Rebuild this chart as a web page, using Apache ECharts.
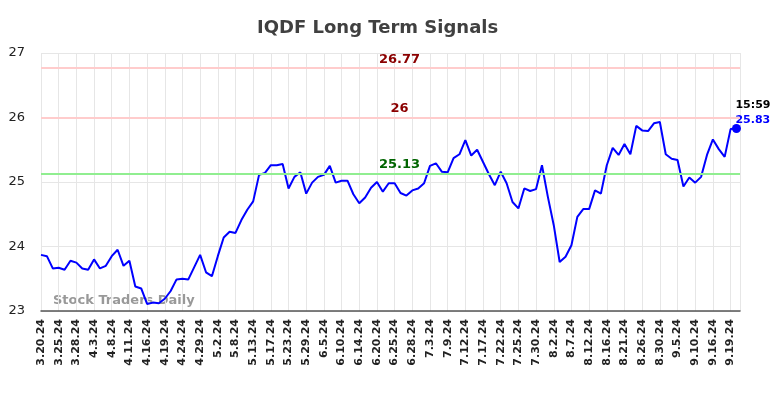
<!DOCTYPE html>
<html>
<head>
<meta charset="utf-8">
<script src="https://cdn.jsdelivr.net/npm/echarts@6/dist/echarts.min.js"></script>
<style>
  html, body { margin: 0; padding: 0; background: #fff; }
  #chart { width: 784px; height: 398px; }
</style>
</head>
<body>
<div id="chart"></div>
<script>
// tick labels on the x axis, one every 3 sessions
var tickLabels = ["3.20.24", "3.25.24", "3.28.24", "4.3.24", "4.8.24", "4.11.24", "4.16.24", "4.19.24",
    "4.24.24", "4.29.24", "5.2.24", "5.8.24", "5.13.24", "5.17.24", "5.23.24", "5.29.24", "6.5.24",
    "6.10.24", "6.14.24", "6.20.24", "6.25.24", "6.28.24", "7.3.24", "7.9.24", "7.12.24", "7.17.24",
    "7.22.24", "7.25.24", "7.30.24", "8.2.24", "8.7.24", "8.12.24", "8.16.24", "8.21.24", "8.26.24",
    "8.30.24", "9.5.24", "9.10.24", "9.16.24", "9.19.24"];
var tickStep = 3;

// closing prices, one per session
var prices = [
    23.87, 23.85, 23.66, 23.67, 23.64, 23.78, 23.75, 23.66, 23.64, 23.80,
    23.66, 23.70, 23.85, 23.95, 23.70, 23.78, 23.38, 23.35, 23.11, 23.13,
    23.12, 23.19, 23.31, 23.49, 23.50, 23.49, 23.68, 23.87, 23.60, 23.54,
    23.85, 24.14, 24.23, 24.21, 24.41, 24.57, 24.70, 25.11, 25.14, 25.26,
    25.26, 25.28, 24.90, 25.08, 25.15, 24.82, 24.99, 25.08, 25.11, 25.25,
    24.99, 25.02, 25.02, 24.81, 24.67, 24.76, 24.91, 25.00, 24.85, 24.98,
    24.98, 24.83, 24.79, 24.87, 24.90, 24.98, 25.25, 25.29, 25.16, 25.15,
    25.37, 25.43, 25.65, 25.41, 25.50, 25.31, 25.12, 24.95, 25.16, 24.98,
    24.69, 24.59, 24.90, 24.86, 24.89, 25.26, 24.77, 24.33, 23.76, 23.84,
    24.02, 24.46, 24.58, 24.58, 24.87, 24.82, 25.26, 25.53, 25.42, 25.59,
    25.43, 25.87, 25.80, 25.79, 25.91, 25.93, 25.43, 25.36, 25.34, 24.93,
    25.07, 24.99, 25.08, 25.42, 25.66, 25.51, 25.39, 25.82, 25.83
];

// signal levels
var resistanceHigh = 26.77;
var resistanceLow = 26;
var support = 25.13;
var lastTime = "15:59";

var myChart = echarts.init(document.getElementById("chart"));

var seriesData = prices.map(function (v, i) {
    if (i === prices.length - 1) {
        return {
            value: [i, v],
            symbol: "circle",
            symbolSize: 9,
            label: {
                show: true,
                position: "top",
                align: "left",
                offset: [-1, 9],
                formatter: "{t|" + lastTime + "}\n{v|" + v.toFixed(2) + "}",
                rich: {
                    t: { color: "#000", fontWeight: "bold", fontSize: 11, lineHeight: 15 },
                    v: { color: "#0000ff", fontWeight: "bold", fontSize: 11, lineHeight: 15 }
                }
            }
        };
    }
    return [i, v];
});

function levelLine(val, lineColor, textColor) {
    return {
        yAxis: val,
        lineStyle: { color: lineColor, width: 2, type: "solid" },
        label: {
            show: true,
            position: "insideMiddleTop",
            formatter: String(val),
            color: textColor,
            fontWeight: "bold",
            fontSize: 13,
            padding: [0, 0, 0, 18],
            distance: 2
        }
    };
}

var option = {
    animation: false,
    title: {
        text: "IQDF Long Term Signals",
        left: 252,
        top: 14,
        textStyle: { fontSize: 18, fontWeight: "bold", color: "#404040", fontFamily: "DejaVu Sans" }
    },
    textStyle: { fontFamily: "DejaVu Sans" },
    grid: { left: 41, right: 44, top: 53, bottom: 87 },
    xAxis: {
        type: "value",
        min: 0,
        max: prices.length - 1 + 0.6,
        interval: tickStep,
        axisLine: { show: true, onZero: false, lineStyle: { color: "#555", width: 1.5 } },
        axisTick: { show: false },
        splitLine: { show: true, lineStyle: { color: "#e6e6e6", width: 1 } },
        axisLabel: {
            rotate: 90,
            margin: 8,
            fontSize: 11,
            fontWeight: "bold",
            color: "#222",
            showMaxLabel: false,
            formatter: function (val) {
                var k = val / tickStep;
                return (k === Math.round(k) && tickLabels[k]) ? tickLabels[k] : "";
            }
        }
    },
    yAxis: {
        type: "value",
        min: 23,
        max: 27,
        interval: 1,
        axisLine: { show: false },
        axisTick: { show: false },
        splitLine: { lineStyle: { color: "#e6e6e6", width: 1 } },
        axisLabel: { fontSize: 13, color: "#222", margin: 16 }
    },
    graphic: [{
        type: "text",
        left: 53,
        top: 294,
        style: { text: "Stock Traders Daily", fill: "#999", font: "bold 13px DejaVu Sans" }
    }],
    series: [{
        type: "line",
        data: seriesData,
        showSymbol: true,
        symbol: "none",
        lineStyle: { color: "#0000ff", width: 2 },
        itemStyle: { color: "#0000ff" },
        markLine: {
            silent: true,
            symbol: "none",
            data: [
                levelLine(resistanceHigh, "#ffcccc", "#8b0000"),
                levelLine(resistanceLow, "#ffcccc", "#8b0000"),
                levelLine(support, "#90ee90", "#006400")
            ]
        },
        z: 3
    }]
};

myChart.setOption(option);
</script>
</body>
</html>
